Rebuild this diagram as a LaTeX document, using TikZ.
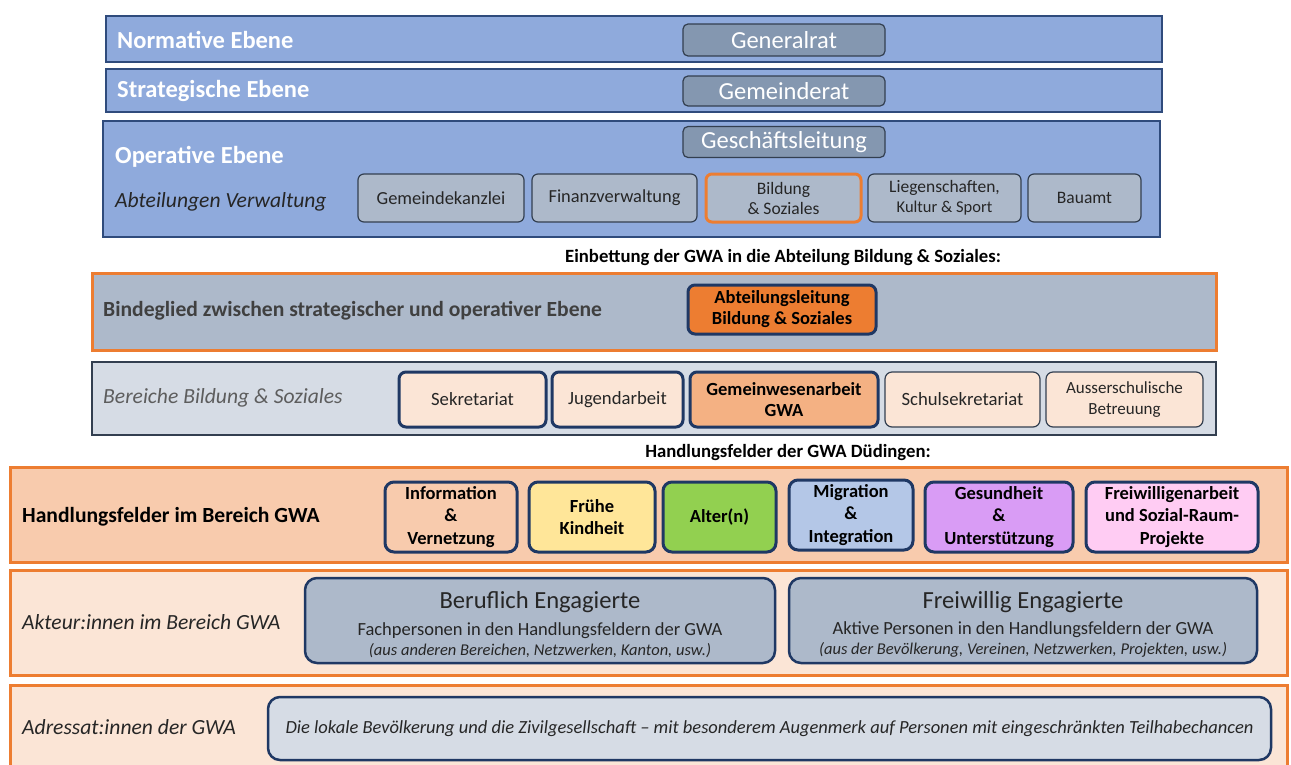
\documentclass[tikz,border=0pt]{standalone}
\usepackage{fontspec}
\setmainfont{Carlito}
\definecolor{bandblue}{HTML}{8FAADC}
\definecolor{bandline}{HTML}{2F4B7C}
\definecolor{ratfill}{HTML}{8497B0}
\definecolor{deptfill}{HTML}{ADB9CA}
\definecolor{darkline}{HTML}{333F50}
\definecolor{orangeline}{HTML}{ED7D31}
\definecolor{navy}{HTML}{1F3864}
\definecolor{paleblue}{HTML}{D6DCE5}
\definecolor{palepeach}{HTML}{FBE5D6}
\definecolor{peach}{HTML}{F8CBAD}
\definecolor{salmon}{HTML}{F4B183}
\definecolor{yellowfill}{HTML}{FFE699}
\definecolor{greenfill}{HTML}{92D050}
\definecolor{migfill}{HTML}{B4C7E7}
\definecolor{purplefill}{HTML}{D99CF5}
\definecolor{pinkfill}{HTML}{FFCCF3}
\definecolor{textdark}{HTML}{262626}
\definecolor{textgray}{HTML}{404040}
\begin{document}
\begin{tikzpicture}[x=1pt,y=-1pt,
    every node/.style={inner sep=0pt,align=center},
    blueband/.style={draw=bandline,line width=1.2,fill=bandblue},
    orangeband/.style={draw=orangeline,line width=3},
    rat/.style={draw=darkline,line width=1.2,fill=ratfill,rounded corners=5,
      text=white,minimum width=202,font=\fontsize{24.5}{26}\selectfont},
    dept/.style={draw=darkline,line width=1.2,fill=deptfill,rounded corners=6,
      text=textdark,minimum height=48,font=\fontsize{18.4}{21}\selectfont},
    bereich/.style={draw=navy,line width=3,fill=palepeach,rounded corners=7,
      text=textdark,minimum height=55,font=\fontsize{18.7}{21}\selectfont},
    feld/.style={draw=navy,line width=3,rounded corners=9,text=black,
      minimum height=70,font=\bfseries\fontsize{18.5}{22.5}\selectfont},
    akteur/.style={draw=navy,line width=2.5,fill=deptfill,rounded corners=12,
      text=textdark,minimum height=85},
    whitelbl/.style={anchor=west,text=white,font=\bfseries\fontsize{24.5}{26}\selectfont},
    itlbl/.style={anchor=west,text=textdark,font=\itshape\fontsize{21.6}{24}\selectfont},
    title/.style={text=black,font=\bfseries\fontsize{18.7}{20}\selectfont}]
  \useasboundingbox (0,0) rectangle (1291,764);

  % Ebenen
  \draw[blueband] (106,16) rectangle (1162,62);
  \node[whitelbl] (normativ) at (117,40) {Normative Ebene};
  \node[rat,minimum height=32] (generalrat) at (784,40) {Generalrat};

  \draw[blueband] (106,69) rectangle (1162,112);
  \node[whitelbl] (strategisch) at (117,91) {Strategische Ebene};
  \node[rat,minimum height=30] (gemeinderat) at (784,91) {Gemeinderat};

  \draw[blueband] (103,121) rectangle (1160,237);
  \node[whitelbl] (operativ) at (115,157) {Operative Ebene};
  \node[rat,minimum height=31] (gl) at (784,142) {Geschäftsleitung};
  \node[itlbl] (abteilungen) at (115,202) {Abteilungen Verwaltung};
  \node[dept,minimum width=166] (kanzlei) at (441,198) {Gemeindekanzlei};
  \node[dept,minimum width=165] (finanz) at (614.5,198) {Finanzverwaltung};
  \node[dept,minimum width=155,draw=orangeline,line width=3,
    font=\fontsize{17.5}{20}\selectfont] (bildung) at (783.5,198) {Bildung\\\& Soziales};
  \node[dept,minimum width=153,font=\fontsize{17.5}{20}\selectfont] (liegen) at (944.5,198)
    {Liegenschaften,\\{\fontsize{16.5}{19}\selectfont Kultur \& Sport}};
  \node[dept,minimum width=113,font=\fontsize{17.5}{20}\selectfont] (bauamt) at (1084.5,198) {Bauamt};

  % Abteilung Bildung & Soziales
  \node[title] (einbettung) at (783,258) {Einbettung der GWA in die Abteilung Bildung \& Soziales:};
  \draw[orangeband,fill=deptfill] (92,273) rectangle (1216,350);
  \node[anchor=west,text=textgray,font=\bfseries\fontsize{21.6}{23}\selectfont] (bindeglied)
    at (103,311) {Bindeglied zwischen strategischer und operativer Ebene};
  \node[bereich,fill=orangeline,minimum width=188,minimum height=49,text=black,
    font=\bfseries\fontsize{18.5}{21}\selectfont] (leitung) at (782,309.5)
    {Abteilungsleitung\\Bildung \& Soziales};

  \draw[draw=darkline,line width=1.2,fill=paleblue] (92,362) rectangle (1216,435);
  \node[itlbl,text=textgray!85] (bereiche) at (103,398) {Bereiche Bildung \& Soziales};
  \node[bereich,minimum width=147] (sekretariat) at (472.5,399.5) {Sekretariat};
  \node[bereich,minimum width=131] (jugend) at (617.5,399.5) {Jugendarbeit};
  \node[bereich,minimum width=188,fill=salmon,text=black,
    font=\bfseries\fontsize{18.5}{21}\selectfont] (gwa) at (784,399.5) {Gemeinwesenarbeit\\GWA};
  \node[bereich,minimum width=155,draw=darkline,line width=1.2] (schulsek) at (962.5,399.5) {Schulsekretariat};
  \node[bereich,minimum width=157,draw=darkline,line width=1.2,
    font=\fontsize{17}{21}\selectfont] (ausser) at (1124.5,399.5) {Ausserschulische\\Betreuung};

  % Handlungsfelder
  \node[title] (hftitle) at (788,453) {Handlungsfelder der GWA Düdingen:};
  \draw[orangeband,fill=peach] (10,467) rectangle (1287,562);
  \node[anchor=west,text=black,font=\bfseries\fontsize{21.6}{24}\selectfont] (hf)
    at (22,517) {Handlungsfelder im Bereich GWA};
  \node[feld,minimum width=132,fill=peach] (info) at (451,517) {Information\\\&\\Vernetzung};
  \node[feld,minimum width=126,fill=yellowfill] (fruehe) at (592,517) {Frühe\\Kindheit};
  \node[feld,minimum width=113,fill=greenfill] (alter) at (719.5,517) {Alter(n)};
  \node[feld,minimum width=124,fill=migfill] (migration) at (851,515) {Migration\\\&\\Integration};
  \node[feld,minimum width=148,fill=purplefill] (gesundheit) at (999,517) {Gesundheit\\\&\\Unterstützung};
  \node[feld,minimum width=172,fill=pinkfill] (freiwillig) at (1172,517)
    {Freiwilligenarbeit\\und Sozial-Raum-\\Projekte};

  % Akteur:innen
  \draw[orangeband,fill=palepeach] (10,570) rectangle (1287,675);
  \node[itlbl] (akteure) at (22,622) {Akteur:innen im Bereich GWA};
  \node[akteur,minimum width=470] (beruflich) at (540,620.5)
    {{\fontsize{24.6}{26}\selectfont\rule{0pt}{25.5pt}Beruflich Engagierte}\\[8pt]
     {\fontsize{18.5}{21}\selectfont Fachpersonen in den Handlungsfeldern der GWA}\\[4pt]
     {\itshape\fontsize{16.5}{17}\selectfont (aus anderen Bereichen, Netzwerken, Kanton, usw.)}};
  \node[akteur,minimum width=468] (freiwilligeng) at (1023,620.5)
    {{\fontsize{24.6}{26}\selectfont\rule{0pt}{25.5pt}Freiwillig Engagierte}\\[8pt]
     {\fontsize{18.5}{21}\selectfont Aktive Personen in den Handlungsfeldern der GWA}\\[4pt]
     {\itshape\fontsize{16.5}{17}\selectfont (aus der Bevölkerung, Vereinen, Netzwerken, Projekten, usw.)}};

  % Adressat:innen
  \draw[orangeband,fill=palepeach] (10,685) rectangle (1287,790);
  \node[itlbl] (adressaten) at (22,727) {Adressat:innen der GWA};
  \node[akteur,minimum width=1003,minimum height=63,fill=paleblue,
    font=\itshape\fontsize{18.5}{20}\selectfont] (bevoelkerung) at (769.5,728.5)
    {Die lokale Bevölkerung und die Zivilgesellschaft -- mit besonderem Augenmerk auf Personen mit eingeschränkten Teilhabechancen};
\end{tikzpicture}
\end{document}
